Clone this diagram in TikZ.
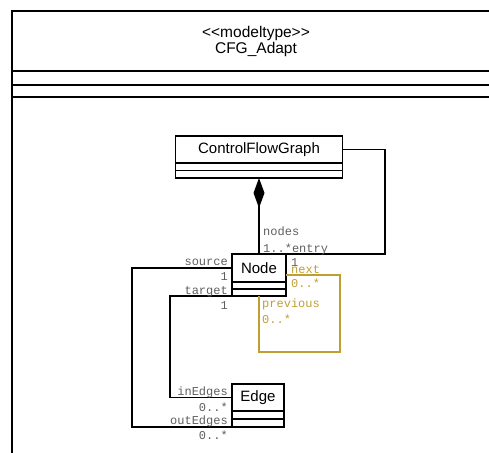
\documentclass[tikz,border=0pt]{standalone}
\usepackage{fontspec}
\setmainfont{Liberation Sans}
\newfontfamily\rolefont{Liberation Mono}
\usetikzlibrary{arrows.meta}
\definecolor{rolegray}{RGB}{95,95,95}
\definecolor{loopgold}{RGB}{191,159,51}
\begin{document}
\begin{tikzpicture}[x=1pt,y=-1pt,
  cls/.style={draw, line width=1.9pt, inner sep=0pt, outer sep=0pt,
    font=\fontsize{15}{16}\selectfont, minimum height=27pt},
  cmp/.style={draw, line width=1.9pt, inner sep=0pt, outer sep=0pt, minimum height=7.5pt},
  role/.style={font=\rolefont\fontsize{12}{13}\selectfont, text=rolegray, inner sep=0pt},
  goldrole/.style={role, text=loopgold},
  conn/.style={line width=1.9pt},
  goldconn/.style={line width=1.9pt, draw=loopgold},
  frame/.style={line width=1.9pt}]
\useasboundingbox (0,0) rectangle (489,452);
\clip (0,0) rectangle (489,452);
% outer frame (model type)
\draw[frame] (12,470) -- (12,11) -- (500,11);
\draw[frame] (12,71) -- (500,71);
\draw[frame] (12,85) -- (500,85);
\draw[frame] (12,97) -- (500,97);
\node[anchor=base, inner sep=0pt, font=\fontsize{15.5}{17}\selectfont] (stereo) at (256,37.5) {{<}{<}modeltype{>}{>}};
\node[anchor=base, inner sep=0pt, font=\fontsize{15.5}{17}\selectfont] (title) at (256,53.5) {CFG\_Adapt};
% classes
\node[cls, minimum width=167pt] (cfg) at (259,149.5) {ControlFlowGraph};
\node[cmp, minimum width=167pt] (cfg2) at (259,166.75) {};
\node[cmp, minimum width=167pt] (cfg3) at (259,174.25) {};
\node[cls, minimum width=54pt, minimum height=28pt] (nd) at (259,268) {Node};
\node[cmp, minimum width=54pt, minimum height=7pt] (nd2) at (259,285.5) {};
\node[cmp, minimum width=54pt, minimum height=7pt] (nd3) at (259,292.5) {};
\node[cls, minimum width=52pt] (ed) at (258,397.5) {Edge};
\node[cmp, minimum width=52pt, minimum height=8pt] (ed2) at (258,415) {};
\node[cmp, minimum width=52pt, minimum height=8pt] (ed3) at (258,423) {};
% bend points
\coordinate (entryBend) at (385,254);
\coordinate (srcBend) at (132,427);
\coordinate (tgtBend) at (170,397.5);
\coordinate (loopA) at (340,275);
\coordinate (loopB) at (259,352);
% connectors
\draw[conn, {Diamond[length=30pt,width=11pt]}-] (cfg3.south) -- (nd.north);
\draw[conn] (cfg.east) -| (entryBend) -- (nd.north east);
\draw[conn] (nd.west) -| (srcBend) -- (ed3.south west);
\draw[conn] (nd3.south west) -| (tgtBend) -- (ed.west);
\draw[goldconn] (nd.east |- loopA) -- (loopA) |- (loopB) -- (nd3.south);
% role labels
\node[role, anchor=base west] (lnodes) at (263,235.5) {nodes};
\node[role, anchor=base west] (lentry) at (263,252) {1..*entry};
\node[role, anchor=base east] (lsrc) at (228,265.5) {source};
\node[role, anchor=base east] (lsrcm) at (228,280) {1};
\node[role, anchor=base east] (ltgt) at (228,294.5) {target};
\node[role, anchor=base east] (ltgtm) at (228,309) {1};
\node[role, anchor=base west] (lentm) at (291,266) {1};
\node[goldrole, anchor=base west] (lnext) at (291,273) {next};
\node[goldrole, anchor=base west] (lnextm) at (291,287) {0..*};
\node[goldrole, anchor=base west] (lprev) at (262,307.5) {previous};
\node[goldrole, anchor=base west] (lprevm) at (262,323.5) {0..*};
\node[role, anchor=base east] (lin) at (228,395.5) {inEdges};
\node[role, anchor=base east] (linm) at (228,411) {0..*};
\node[role, anchor=base east] (lout) at (228,424.5) {outEdges};
\node[role, anchor=base east] (loutm) at (228,439) {0..*};
\end{tikzpicture}
\end{document}
